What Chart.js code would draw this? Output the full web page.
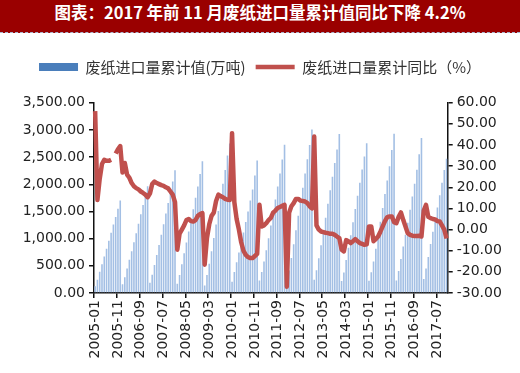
<!DOCTYPE html>
<html lang="zh">
<head>
    <meta charset="UTF-8">
    <title>废纸进口量累计值</title>
    <script src="https://cdn.jsdelivr.net/npm/chart.js"></script>
    <style>
        body { margin: 0; background: #fff; }
        #wrap { position: relative; width: 520px; height: 373px; }
        #title {
            position: absolute; left: 0; top: 0; width: 520px; height: 32px;
            background: #9a0000; color: #fff; text-align: center; line-height: 31px;
            font: bold 16.5px "Noto Sans CJK SC", sans-serif;
            border-bottom: 1px dashed #aab6cc;
        }
        canvas { position: absolute; left: 0; top: 0; }
    </style>
</head>
<body>
<div id="wrap">
    <canvas id="paperChart" width="520" height="373"></canvas>
    <div id="title">图表：2017 年前 11 月废纸进口量累计值同比下降 4.2%</div>
</div>

<script>
    // 废纸进口量累计值(万吨)，按年
    const cum2005 = [125, 245, 390, 530, 670, 815, 960, 1110, 1260, 1400, 1550, 1703];
    const cum2006 = [160, 290, 450, 610, 770, 935, 1100, 1275, 1450, 1620, 1790, 1962];
    const cum2007 = [190, 335, 515, 700, 885, 1070, 1265, 1460, 1655, 1850, 2050, 2256];
    const cum2008 = [170, 330, 530, 730, 930, 1130, 1330, 1540, 1750, 1960, 2190, 2421];
    const cum2009 = [140, 330, 540, 770, 1010, 1260, 1510, 1760, 2010, 2260, 2530, 2750];
    const cum2010 = [205, 385, 565, 745, 930, 1115, 1305, 1500, 1700, 1905, 2160, 2435];
    const cum2011 = [230, 385, 580, 785, 1005, 1240, 1475, 1720, 1960, 2200, 2455, 2728];
    const cum2012 = [170, 415, 645, 895, 1155, 1420, 1680, 1935, 2200, 2460, 2720, 3007];
    const cum2013 = [245, 420, 640, 880, 1130, 1385, 1640, 1890, 2140, 2390, 2640, 2924];
    const cum2014 = [222, 378, 606, 832, 1060, 1300, 1545, 1790, 2030, 2270, 2510, 2752];
    const cum2015 = [225, 382, 578, 812, 1060, 1310, 1565, 1820, 2070, 2330, 2630, 2928];
    const cum2016 = [232, 405, 625, 855, 1072, 1292, 1530, 1775, 2008, 2268, 2550, 2850];
    const cum2017 = [256, 450, 662, 900, 1128, 1350, 1572, 1800, 2030, 2260, 2470];

    // 废纸进口量累计同比（%）
    const yoy2005 = [56, 14, 24, 31, 33, 32.5, 32.5, 33, null, 36, 38, 39.5];
    const yoy2006 = [27, 31.5, 26, 24.5, 22, 20.5, 19.6, 19, 18, 17.3, 16.5, 15.3];
    const yoy2007 = [17, 21.5, 22.7, 22, 21.5, 21, 20.7, 20, 19.5, 18, 16.5, 13];
    const yoy2008 = [-9.5, -2, 0, 2, 4.5, 5, 4, 3.8, 4.5, 6.5, 7.3, 7.8];
    const yoy2009 = [-16.6, -4, 2.5, 6.5, 8, 13.5, 16.5, 15.8, 15.3, 14.5, 14.1, 14];
    const yoy2010 = [45.6, 13, 5, 0, -6, -10, -12, -13, -13.5, -13.5, -12.5, -11.5];
    const yoy2011 = [11.7, 1.5, 2, 3, 4.5, 5.5, 8, 9, 10.2, 10.7, 11.2, 11.7];
    const yoy2012 = [-27, 8, 11, 12.5, 14.5, 14.5, 13.7, 13.5, 13.3, 12.5, 11, 10];
    const yoy2013 = [44, 2, 0, -0.9, -1.2, -1.5, -1.7, -2, -2, -2.5, -3.3, -4];
    const yoy2014 = [-9.5, -10.3, -5, -5.5, -6.4, -5.5, -4.5, -5.5, -6.4, -6.8, -7.2, -7];
    const yoy2015 = [1.5, 1.5, -5.5, -4.5, -3.3, -1, 1.5, 4, 5.9, 6.2, 6.2, 3.5];
    const yoy2016 = [3, 6, 8.1, 4.6, 1.5, -1.7, -2.5, -2.9, -3, -3, -2.9, -3.3];
    const yoy2017 = [9, 11.7, 6, 5.4, 5, 4.8, 4, 3.8, 2, 0, -4.2];

    const years = [2005, 2006, 2007, 2008, 2009, 2010, 2011, 2012, 2013, 2014, 2015, 2016, 2017];

    const cumValues = [].concat(cum2005, cum2006, cum2007, cum2008, cum2009, cum2010, cum2011,
        cum2012, cum2013, cum2014, cum2015, cum2016, cum2017);
    const yoyValues = [].concat(yoy2005, yoy2006, yoy2007, yoy2008, yoy2009, yoy2010, yoy2011,
        yoy2012, yoy2013, yoy2014, yoy2015, yoy2016, yoy2017);

    // 月份标签 2005-01 ... 2017-11
    const months = [];
    years.forEach(y => {
        for (let m = 1; m <= 12; m++) {
            if (y === 2017 && m > 11) break;
            months.push(y + '-' + (m < 10 ? '0' + m : m));
        }
    });

    const tickFont = { family: 'DejaVu Sans', size: 14 };
    const axisColor = '#111';
    const barColor = '#a3bfe4';
    const barLegendColor = '#4a7ebb';
    const lineColor = '#c0504d';

    const ctx = document.getElementById('paperChart').getContext('2d');
    new Chart(ctx, {
        data: {
            labels: months,
            datasets: [{
                type: 'bar',
                label: '废纸进口量累计值(万吨)',
                data: cumValues,
                yAxisID: 'y',
                backgroundColor: barColor,
                barPercentage: 0.7,
                categoryPercentage: 1,
                order: 2
            }, {
                type: 'line',
                label: '废纸进口量累计同比（%）',
                data: yoyValues,
                yAxisID: 'y1',
                borderColor: lineColor,
                backgroundColor: lineColor,
                borderWidth: 4.5,
                pointRadius: 0,
                tension: 0,
                spanGaps: false,
                borderJoinStyle: 'round',
                order: 1
            }]
        },
        options: {
            responsive: false,
            animation: false,
            layout: { padding: { top: 49.5, left: 0, right: 0, bottom: 0 } },
            plugins: {
                tooltip: { enabled: false },
                legend: {
                    position: 'top',
                    labels: {
                        usePointStyle: true,
                        pointStyleWidth: 39,
                        boxHeight: 8,
                        padding: 10,
                        color: '#333',
                        font: { family: 'Noto Sans CJK SC', size: 15 },
                        sort: (a, b) => a.datasetIndex - b.datasetIndex,
                        generateLabels: function(chart) {
                            const items = Chart.defaults.plugins.legend.labels.generateLabels(chart);
                            items.forEach(it => {
                                if (it.datasetIndex === 0) {
                                    it.pointStyle = 'rect';
                                    it.fillStyle = barLegendColor;
                                    it.strokeStyle = barLegendColor;
                                    it.lineWidth = 0;
                                } else {
                                    it.pointStyle = 'line';
                                    it.strokeStyle = lineColor;
                                    it.lineWidth = 4.5;
                                }
                            });
                            return items;
                        }
                    }
                },
                // 图例与绘图区之间的空白
                subtitle: {
                    display: true,
                    text: '',
                    position: 'top',
                    weight: 500,
                    font: { size: 10, lineHeight: 1 },
                    padding: { top: 0, bottom: 8.2 }
                }
            },
            scales: {
                x: {
                    offset: true,
                    grid: {
                        drawOnChartArea: false,
                        tickLength: 5,
                        lineWidth: 1.5,
                        color: c => (c.index % 10 === 0 ? axisColor : 'rgba(0,0,0,0)')
                    },
                    border: { display: true, color: axisColor, width: 1.5 },
                    ticks: {
                        autoSkip: false,
                        minRotation: 90,
                        maxRotation: 90,
                        padding: 2,
                        color: '#222',
                        font: tickFont,
                        callback: function(v, i) {
                            return i % 10 === 0 ? this.getLabelForValue(v) : '';
                        }
                    },
                    afterFit: s => { s.height = 80; }
                },
                y: {
                    position: 'left',
                    min: 0,
                    max: 3500,
                    grid: { drawOnChartArea: false, tickLength: 5, color: axisColor, lineWidth: 1.5 },
                    border: { display: true, color: axisColor, width: 1.5 },
                    ticks: {
                        stepSize: 500,
                        padding: 4,
                        color: '#222',
                        font: tickFont,
                        callback: v => v.toLocaleString('en-US', { minimumFractionDigits: 2, maximumFractionDigits: 2 })
                    },
                    afterFit: s => { s.width = 94; }
                },
                y1: {
                    position: 'right',
                    min: -30,
                    max: 60,
                    grid: { drawOnChartArea: false, tickLength: 5, color: axisColor, lineWidth: 1.5 },
                    border: { display: true, color: axisColor, width: 1.5 },
                    ticks: {
                        stepSize: 10,
                        padding: 4,
                        color: '#222',
                        font: tickFont,
                        callback: v => v.toFixed(2)
                    },
                    afterFit: s => { s.width = 72.3; }
                }
            }
        }
    });
</script>
</body>
</html>
